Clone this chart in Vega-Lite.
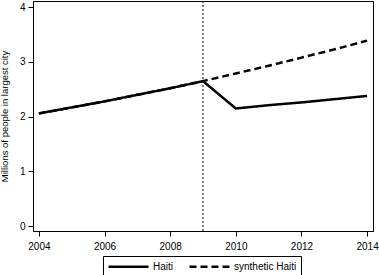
{
  "$schema": "https://vega.github.io/schema/vega-lite/v6.json",
  "width": 340,
  "height": 230,
  "autosize": {"type": "none"},
  "padding": {"left": 33, "top": 1, "right": 6, "bottom": 44},
  "background": "white",
  "config": {
    "view": {"stroke": "black", "strokeWidth": 1},
    "font": "Liberation Sans",
    "axis": {
      "grid": false,
      "domainColor": "black",
      "tickColor": "black",
      "labelColor": "black",
      "titleColor": "black",
      "labelFont": "Liberation Sans",
      "titleFont": "Liberation Sans",
      "labelFontSize": 10,
      "tickSize": 5
    },
    "legend": {
      "labelFont": "Liberation Sans",
      "labelFontSize": 10,
      "labelColor": "black"
    }
  },
  "layer": [
    {
      "data": {
        "values": [
          {"year": 2004, "series": "Haiti", "value": 2.06},
          {"year": 2005, "series": "Haiti", "value": 2.17},
          {"year": 2006, "series": "Haiti", "value": 2.28},
          {"year": 2007, "series": "Haiti", "value": 2.40},
          {"year": 2008, "series": "Haiti", "value": 2.52},
          {"year": 2009, "series": "Haiti", "value": 2.65},
          {"year": 2010, "series": "Haiti", "value": 2.15},
          {"year": 2011, "series": "Haiti", "value": 2.21},
          {"year": 2012, "series": "Haiti", "value": 2.26},
          {"year": 2013, "series": "Haiti", "value": 2.32},
          {"year": 2014, "series": "Haiti", "value": 2.38},
          {"year": 2004, "series": "synthetic Haiti", "value": 2.06},
          {"year": 2005, "series": "synthetic Haiti", "value": 2.17},
          {"year": 2006, "series": "synthetic Haiti", "value": 2.28},
          {"year": 2007, "series": "synthetic Haiti", "value": 2.40},
          {"year": 2008, "series": "synthetic Haiti", "value": 2.52},
          {"year": 2009, "series": "synthetic Haiti", "value": 2.65},
          {"year": 2010, "series": "synthetic Haiti", "value": 2.79},
          {"year": 2011, "series": "synthetic Haiti", "value": 2.93},
          {"year": 2012, "series": "synthetic Haiti", "value": 3.08},
          {"year": 2013, "series": "synthetic Haiti", "value": 3.23},
          {"year": 2014, "series": "synthetic Haiti", "value": 3.39}
        ]
      },
      "mark": {"type": "line", "strokeWidth": 2.5, "color": "black", "clip": true},
      "encoding": {
        "x": {
          "field": "year",
          "type": "quantitative",
          "scale": {"domain": [2003.82, 2014.18], "nice": false, "zero": false},
          "axis": {"values": [2004, 2006, 2008, 2010, 2012, 2014], "format": "d", "title": null, "labelPadding": 5, "labelFlush": false}
        },
        "y": {
          "field": "value",
          "type": "quantitative",
          "scale": {"domain": [-0.09, 4.115], "nice": false, "zero": false},
          "axis": {
            "values": [0, 1, 2, 3, 4],
            "title": "Millions of people in largest city",
            "titleFontSize": 9.5,
            "titleFontWeight": "normal",
            "titlePadding": 10,
            "labelPadding": 3,
            "labelFlush": false
          }
        },
        "strokeDash": {
          "field": "series",
          "type": "nominal",
          "scale": {"domain": ["Haiti", "synthetic Haiti"], "range": [[1, 0], [7, 4]]},
          "legend": {
            "title": null,
            "orient": "none",
            "legendX": 70,
            "legendY": 255,
            "direction": "horizontal",
            "strokeColor": "black",
            "padding": 4,
            "symbolType": "M-1,0H7",
            "symbolSize": 100,
            "symbolStrokeWidth": 2.5,
            "symbolStrokeColor": "black",
            "labelOffset": 33,
            "columnPadding": 10
          }
        }
      }
    },
    {
      "data": {"values": [{"year": 2009}]},
      "mark": {"type": "rule", "strokeDash": [2, 2], "strokeWidth": 1, "color": "black"},
      "encoding": {"x": {"field": "year", "type": "quantitative"}}
    }
  ]
}
